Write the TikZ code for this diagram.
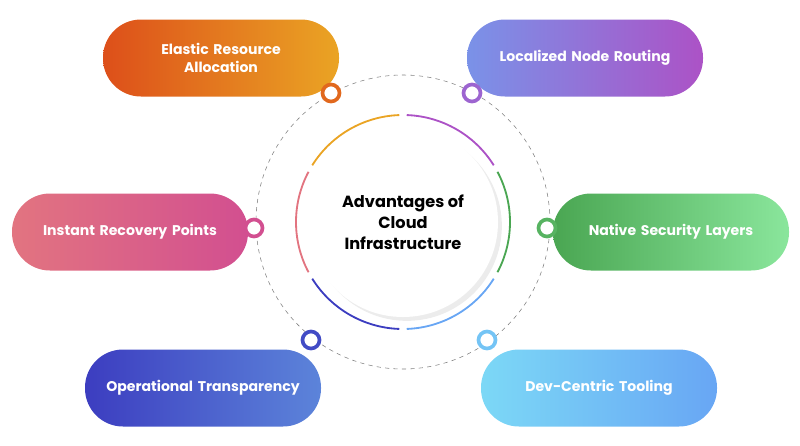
\documentclass[tikz,border=0pt]{standalone}
\usepackage{fontspec}
\setmainfont{Poppins}
\usetikzlibrary{calc,shadows}
\definecolor{orA}{HTML}{DD4F1A}\definecolor{orB}{HTML}{EAA424}
\definecolor{vioA}{HTML}{7A92E8}\definecolor{vioB}{HTML}{AC52C6}
\definecolor{pkA}{HTML}{E27480}\definecolor{pkB}{HTML}{D24F90}
\definecolor{grA}{HTML}{4AA652}\definecolor{grB}{HTML}{8AE69C}
\definecolor{blA}{HTML}{3C3DC0}\definecolor{blB}{HTML}{5C84DA}
\definecolor{skA}{HTML}{7CD8F6}\definecolor{skB}{HTML}{68A6F4}
\tikzset{
  pill/.style={rounded corners=38*0.25mm, minimum width=236*0.25mm, minimum height=77*0.25mm,
    text=white, font=\fontsize{10}{13}\selectfont\bfseries, align=center, text width=50mm},
  ring/.style={circle, draw=#1, line width=2.6pt, fill=white, minimum size=17*0.25mm, inner sep=0pt},
  seg/.style={line width=1.3pt, #1}
}
\begin{document}
\begin{tikzpicture}[x=0.25mm,y=-0.25mm]
\useasboundingbox (0,0) rectangle (800,445);
% outer dashed circle
\path[draw,gray,dashed,thin] (403,222) circle (147*0.25mm);
% inner segmented ring
\foreach \a/\b/\c in {92/148/orB, 32/88/vioB, -28/28/grA, -88/-32/skB, -148/-92/blA, 152/208/pkA}
  \path[draw,seg=\c] ($(403,222)+(\a:107*0.25mm)$) arc (\a:\b:107*0.25mm);
\node[circle, fill=white, minimum size=190*0.25mm, drop shadow={opacity=0.15}] (core) at (403,222) {};
\node[font=\fontsize{11.5}{15}\selectfont\bfseries, align=center] (title) at (403,222) {Advantages of\\Cloud\\Infrastructure};
% pills
\node[pill, left color=orA, right color=orB] (elastic) at (221,58) {Elastic Resource\\Allocation};
\node[pill, left color=vioA, right color=vioB] (routing) at (585,58) {Localized Node Routing};
\node[pill, left color=pkA, right color=pkB] (recovery) at (130,232) {Instant Recovery Points};
\node[pill, left color=grA, right color=grB] (security) at (671,232) {Native Security Layers};
\node[pill, left color=blA, right color=blB] (transp) at (203,388) {Operational Transparency};
\node[pill, left color=skA, right color=skB] (tooling) at (599,388) {Dev-Centric Tooling};
% markers
\node[ring=orA!70!orB] (m1) at (331,93) {};
\node[ring=vioB!70!vioA] (m2) at (472,93) {};
\node[ring=pkB] (m3) at (254,228) {};
\node[ring=grA!80!grB] (m4) at (547,228) {};
\node[ring=blA!80!blB] (m5) at (311,340) {};
\node[ring=skA!60!skB] (m6) at (487,340) {};
\end{tikzpicture}
\end{document}
